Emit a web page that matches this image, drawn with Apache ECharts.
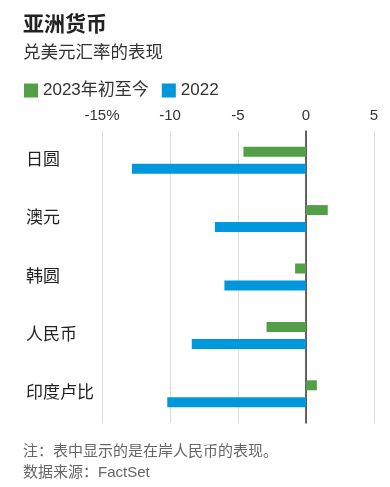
<!DOCTYPE html>
<html><head><meta charset="utf-8">
<script src="https://cdn.jsdelivr.net/npm/echarts@6/dist/echarts.min.js"></script>
<style>html,body{margin:0;padding:0;background:#fff}#c{width:390px;height:487px}</style>
</head><body><div id="c"></div>
<script>
const categories = ['日圆', '澳元', '韩圆', '人民币', '印度卢比'];
const ytd2023 = [-4.6, 1.6, -0.8, -2.9, 0.8];
const y2022 = [-12.8, -6.7, -6.0, -8.4, -10.2];
const seriesNames = ['2023年初至今', '2022'];
const tickValues = [-15, -10, -5, 0, 5];
const FONT = '"Liberation Sans", "Noto Sans CJK SC", sans-serif';
const chart = echarts.init(document.getElementById('c'));
chart.setOption({
  animation: false,
  textStyle: { fontFamily: FONT },
  title: [
    { text: '亚洲货币', left: 18, top: 10, textStyle: { fontSize: 21, fontWeight: 'bold', color: '#222', fontFamily: FONT } },
    { text: '兑美元汇率的表现', left: 18, top: 39, textStyle: { fontSize: 17.5, fontWeight: 'normal', color: '#333', fontFamily: FONT } },
    { text: '注：表中显示的是在岸人民币的表现。\n数据来源：FactSet', left: 18, top: 436,
      textStyle: { fontSize: 15, fontWeight: 'normal', color: '#666', lineHeight: 21, fontFamily: FONT } }
  ],
  legend: {
    left: 19, top: 77, icon: 'rect', itemWidth: 14, itemHeight: 14, itemGap: 13,
    textStyle: { fontSize: 17, color: '#333', fontFamily: FONT },
    data: seriesNames
  },
  grid: { left: 102, right: 16, top: 131, bottom: 64, containLabel: false },
  xAxis: {
    type: 'value', position: 'top', min: -15, max: 5, interval: 5,
    axisLine: { show: false }, axisTick: { show: false },
    splitLine: { show: true, lineStyle: { color: '#dddddd', width: 1 } },
    axisLabel: { fontSize: 15, color: '#333', margin: 8, fontFamily: FONT,
      formatter: v => (v === tickValues[0] ? v + '%' : String(v)) }
  },
  yAxis: {
    type: 'category', data: categories, inverse: true,
    axisLine: { show: true, onZero: true, lineStyle: { color: '#333', width: 1.5 } },
    axisTick: { show: false },
    axisLabel: { fontSize: 17, color: '#222', align: 'left', margin: 76, fontFamily: FONT }
  },
  series: [
    { name: seriesNames[0], type: 'bar', data: ytd2023, barWidth: 10, barGap: '70%',
      itemStyle: { color: '#539f47' } },
    { name: seriesNames[1], type: 'bar', data: y2022, barWidth: 10, barGap: '70%',
      itemStyle: { color: '#0097db' } }
  ]
});
</script></body></html>
